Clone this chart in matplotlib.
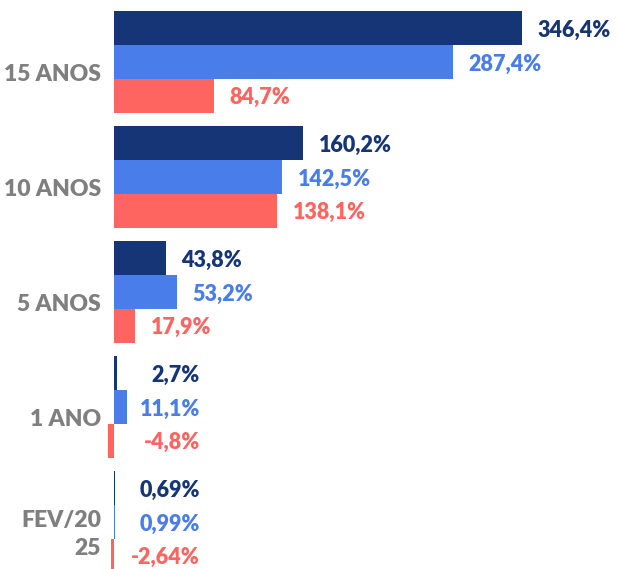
import matplotlib.pyplot as plt
import numpy as np

# categories and the three series (values in %)
categories = ['15 ANOS', '10 ANOS', '5 ANOS', '1 ANO', 'FEV/20\n25']
serie_a = [346.4, 160.2, 43.8, 2.7, 0.69]
serie_b = [287.4, 142.5, 53.2, 11.1, 0.99]
serie_c = [84.7, 138.1, 17.9, -4.8, -2.64]
labels_a = ['346,4%', '160,2%', '43,8%', '2,7%', '0,69%']
labels_b = ['287,4%', '142,5%', '53,2%', '11,1%', '0,99%']
labels_c = ['84,7%', '138,1%', '17,9%', '-4,8%', '-2,64%']

colors = ['#163577', '#497de9', '#fe6460']

plt.rcParams['font.family'] = ['Lato', 'DejaVu Sans']

fig = plt.figure(figsize=(6.18, 5.69), dpi=100)
ax = fig.add_axes([0, 0, 1, 1])

y = np.arange(len(categories))
h = 0.293

series = [(serie_a, labels_a), (serie_b, labels_b), (serie_c, labels_c)]
for k, (vals, labs) in enumerate(series):
    off = (k - 1) * h
    ax.barh(y + off, vals, height=h, color=colors[k])
    for yi, v, lab in zip(y, vals, labs):
        # small values get their label pushed out to a common right edge
        if abs(v) < 15:
            ax.text(73, yi + off, lab, ha='right', va='center_baseline',
                    color=colors[k], fontsize=15.5, fontweight='heavy')
        else:
            ax.text(max(v, 0) + 13.5, yi + off, lab, ha='left', va='center_baseline',
                    color=colors[k], fontsize=15.5, fontweight='heavy')

# category names sit a bit below the middle of each group
for yi, cat in zip(y, categories):
    ax.text(-11, yi + 0.11, cat, ha='right', va='center', color='#7f7f7f',
            fontsize=16.5, fontweight='heavy', multialignment='right',
            linespacing=1.4)

ax.set_xlim(-114 / 1.178, (618 - 114) / 1.178)
ax.set_ylim((569 - 62) / 115, -62 / 115)
ax.axis('off')

fig.savefig('out.png', dpi=100)
